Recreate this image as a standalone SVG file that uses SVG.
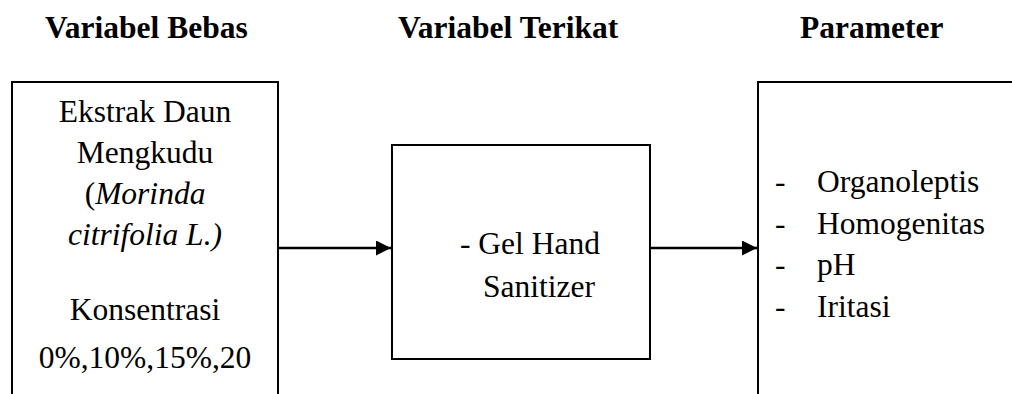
<svg xmlns="http://www.w3.org/2000/svg" width="1012" height="394" viewBox="0 0 1012 394">
  <defs>
    <style>
      .hdr { font-family: "Liberation Serif", "Times New Roman", serif; font-weight: bold; font-size: 31.5px; fill: #000; }
      .txt { font-family: "Liberation Serif", "Times New Roman", serif; font-size: 31.5px; fill: #000; }
      .it { font-style: italic; }
      .box { fill: #fff; stroke: #000; stroke-width: 2; }
      .edge { stroke: #000; stroke-width: 2.5; fill: none; }
    </style>
    <marker id="arrow" viewBox="0 0 10 10" refX="10" refY="5" markerWidth="6" markerHeight="6" orient="auto" markerUnits="strokeWidth">
      <path d="M0,0 L10,5 L0,10 z" fill="#000"/>
    </marker>
  </defs>
  <rect width="1012" height="394" fill="#fff"/>

  <!-- column headings -->
  <g id="headings">
    <text class="hdr" x="45" y="38">Variabel Bebas</text>
    <text class="hdr" x="398" y="38">Variabel Terikat</text>
    <text class="hdr" x="800" y="38">Parameter</text>
  </g>

  <!-- independent variable -->
  <g id="node-bebas">
    <path class="box" d="M12,400 V82 H278 V400"/>
    <text class="txt" x="145" y="122" text-anchor="middle">Ekstrak Daun</text>
    <text class="txt" x="145" y="163" text-anchor="middle">Mengkudu</text>
    <text class="txt" x="145" y="204" text-anchor="middle">(<tspan class="it">Morinda</tspan></text>
    <text class="txt it" x="145" y="245" text-anchor="middle">citrifolia L.)</text>
    <text class="txt" x="145" y="320" text-anchor="middle">Konsentrasi</text>
    <text class="txt" x="145" y="368" text-anchor="middle">0%,10%,15%,20</text>
  </g>

  <!-- dependent variable -->
  <g id="node-terikat">
    <rect class="box" x="392" y="145" width="258" height="214"/>
    <text class="txt" x="460" y="254">- Gel Hand</text>
    <text class="txt" x="483" y="297">Sanitizer</text>
  </g>

  <!-- parameters -->
  <g id="node-parameter">
    <path class="box" d="M1020,82 H758 V400"/>
    <text class="txt" x="775" y="192">-</text>
    <text class="txt" x="817" y="192">Organoleptis</text>
    <text class="txt" x="775" y="233.5">-</text>
    <text class="txt" x="817" y="233.5">Homogenitas</text>
    <text class="txt" x="775" y="275">-</text>
    <text class="txt" x="817" y="275">pH</text>
    <text class="txt" x="775" y="316.5">-</text>
    <text class="txt" x="817" y="316.5">Iritasi</text>
  </g>

  <!-- connectors -->
  <g id="connectors">
    <line class="edge" x1="278" y1="248" x2="391" y2="248" marker-end="url(#arrow)"/>
    <line class="edge" x1="650" y1="248" x2="757" y2="248" marker-end="url(#arrow)"/>
  </g>
</svg>
